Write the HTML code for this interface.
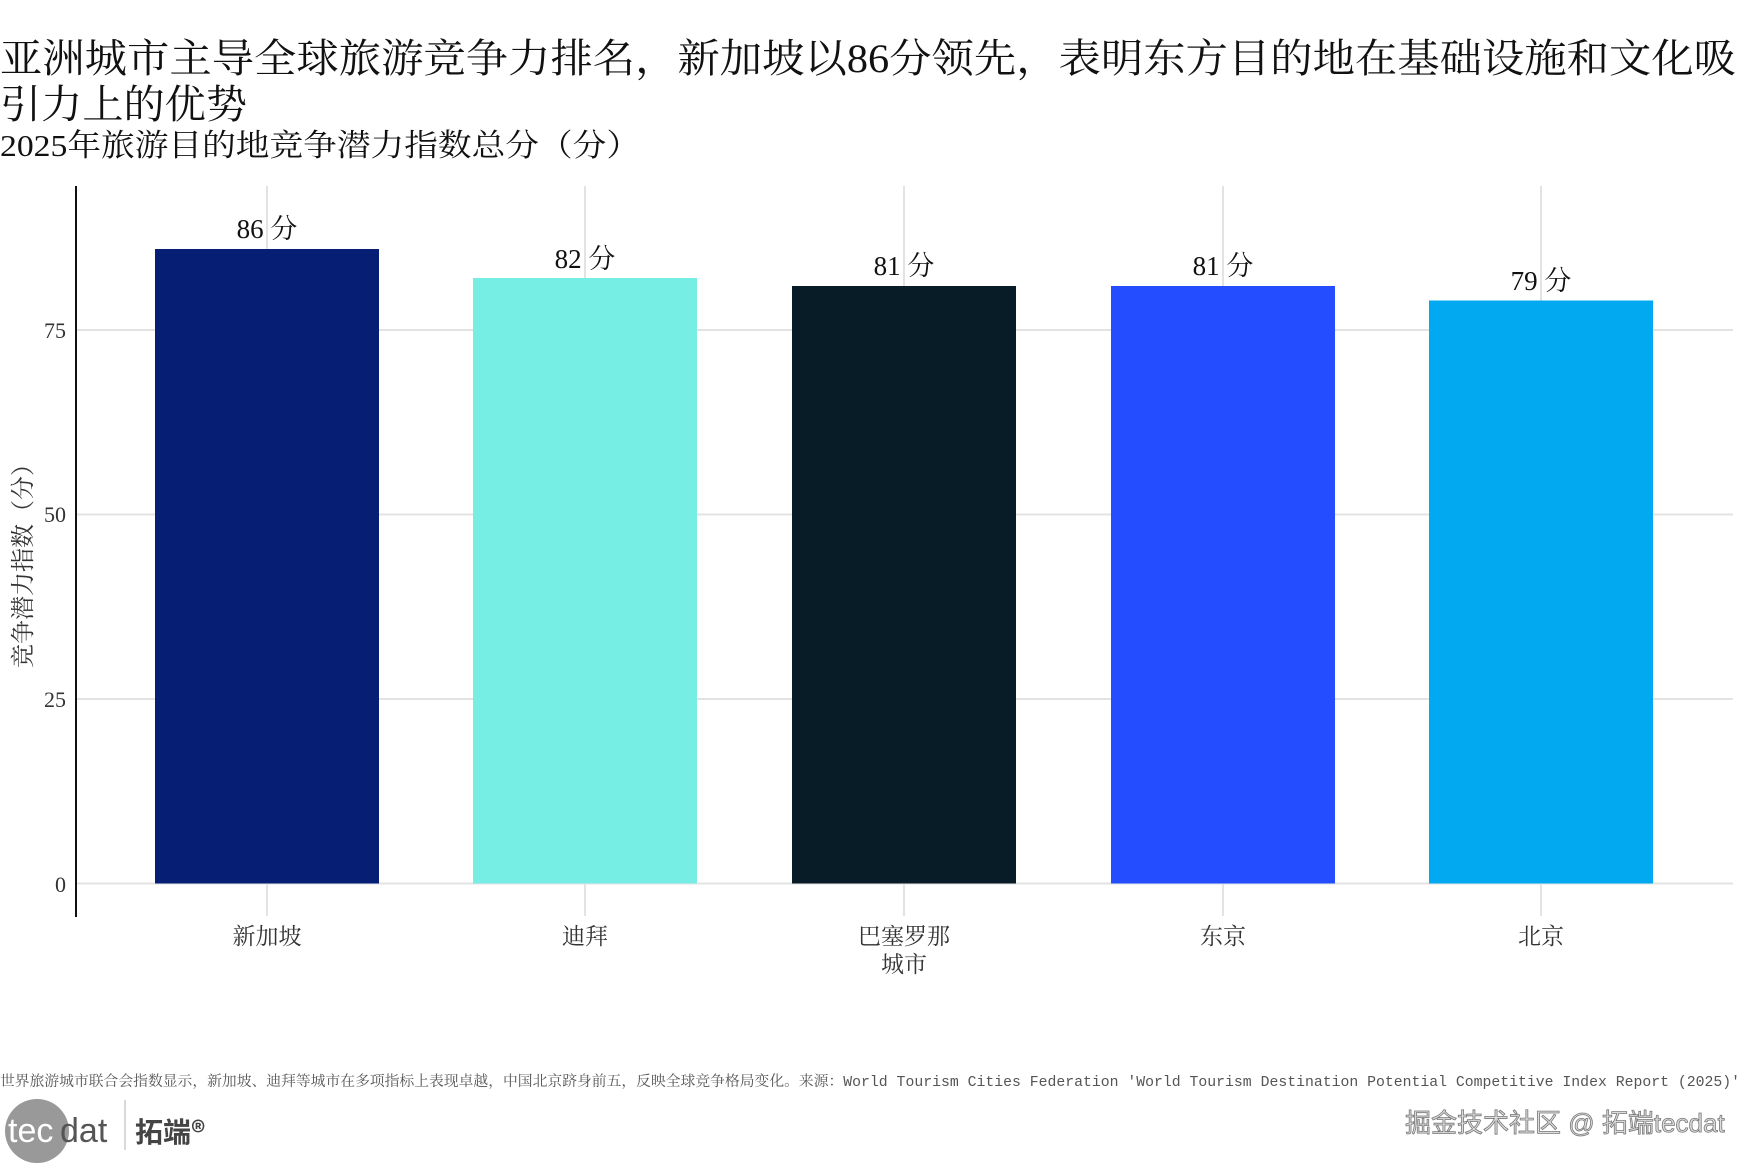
<!DOCTYPE html>
<html><head><meta charset="utf-8"><style>
html,body{margin:0;padding:0;background:#fff;}
svg{display:block;}
.s{font-family:"Liberation Serif","Noto Serif CJK SC",serif;}
</style></head><body>
<svg width="1744" height="1163" xmlns="http://www.w3.org/2000/svg" class="s">
<text x="0" y="72" font-size="40" fill="#111" textLength="1736" lengthAdjust="spacingAndGlyphs">亚洲城市主导全球旅游竞争力排名，新加坡以86分领先，表明东方目的地在基础设施和文化吸</text>
<text x="0" y="118" font-size="40" fill="#111" textLength="247" lengthAdjust="spacingAndGlyphs">引力上的优势</text>
<text x="0" y="156" font-size="31" fill="#111" textLength="640" lengthAdjust="spacingAndGlyphs">2025年旅游目的地竞争潜力指数总分（分）</text>
<g stroke="#e3e3e3" stroke-width="2">
<line x1="77" y1="883.5" x2="1733" y2="883.5"/>
<line x1="77" y1="699" x2="1733" y2="699"/>
<line x1="77" y1="514.5" x2="1733" y2="514.5"/>
<line x1="77" y1="330" x2="1733" y2="330"/>
<line x1="267" y1="186" x2="267" y2="916"/>
<line x1="585" y1="186" x2="585" y2="916"/>
<line x1="904" y1="186" x2="904" y2="916"/>
<line x1="1223" y1="186" x2="1223" y2="916"/>
<line x1="1541" y1="186" x2="1541" y2="916"/>
</g>
<rect x="155" y="249" width="224" height="634.5" fill="#061f74"/>
<rect x="473" y="278" width="224" height="605.5" fill="#77eee4"/>
<rect x="792" y="286" width="224" height="597.5" fill="#081c28"/>
<rect x="1111" y="286" width="224" height="597.5" fill="#234dfe"/>
<rect x="1429" y="300.5" width="224" height="583" fill="#02a8f0"/>
<line x1="76" y1="186" x2="76" y2="917" stroke="#111" stroke-width="2"/>
<g font-size="22" fill="#333" text-anchor="end">
<text x="66" y="892">0</text><text x="66" y="707">25</text><text x="66" y="522">50</text><text x="66" y="338">75</text>
</g>
<g font-size="27" fill="#111" text-anchor="middle">
<text x="267" y="238">86 分</text><text x="585" y="268">82 分</text><text x="904" y="275">81 分</text><text x="1223" y="275">81 分</text><text x="1541" y="290">79 分</text>
</g>
<g font-size="23" fill="#333" text-anchor="middle">
<text x="267" y="944">新加坡</text><text x="585" y="944">迪拜</text><text x="904" y="944">巴塞罗那</text><text x="904" y="972">城市</text><text x="1223" y="944">东京</text><text x="1541" y="944">北京</text>
</g>
<text transform="translate(31,560) rotate(-90)" font-size="24" fill="#333" text-anchor="middle">竞争潜力指数（分）</text>
<text x="0" y="1086" font-size="14.5" fill="#555" font-family="Liberation Mono,'Noto Serif CJK SC',monospace" textLength="1740" lengthAdjust="spacingAndGlyphs">世界旅游城市联合会指数显示，新加坡、迪拜等城市在多项指标上表现卓越，中国北京跻身前五，反映全球竞争格局变化。来源：World Tourism Cities Federation 'World Tourism Destination Potential Competitive Index Report (2025)'</text>
<circle cx="37" cy="1131" r="32" fill="#999"/>
<text x="8" y="1142" font-size="34" fill="#fff" font-family="Liberation Sans,sans-serif">tec</text>
<text x="60" y="1142" font-size="34" fill="#555" font-family="Liberation Sans,sans-serif">dat</text>
<line x1="125" y1="1100" x2="125" y2="1150" stroke="#ccc" stroke-width="1.5"/>
<text x="135" y="1142" font-size="28" fill="#444" font-weight="bold" font-family="'Noto Sans CJK SC',sans-serif">拓端®</text>
<text x="1405" y="1132" font-size="26" fill="#ddd" stroke="#777" stroke-width="0.8" font-family="'Liberation Sans','Noto Sans CJK SC',sans-serif">掘金技术社区 @ 拓端tecdat</text>
</svg>
</body></html>
